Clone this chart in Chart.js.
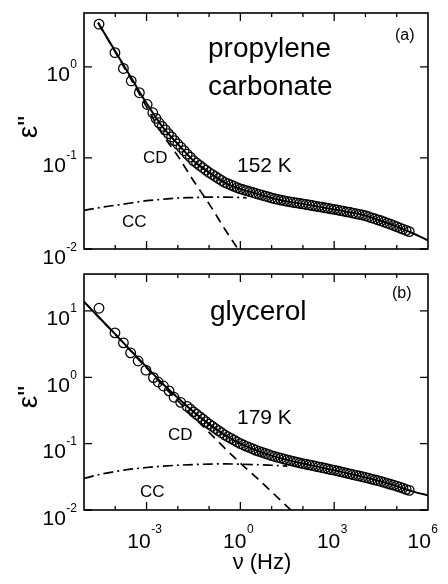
<!DOCTYPE html>
<html>
<head>
<meta charset="utf-8">
<script src="https://cdn.jsdelivr.net/npm/chart.js@4.4.0/dist/chart.umd.min.js"></script>
<style>
  html, body { margin: 0; padding: 0; background: #fff; }
  #wrap { position: relative; width: 448px; height: 584px; }
  canvas { position: absolute; left: 0; }
</style>
</head>
<body>
<div id="wrap">
  <canvas id="panelA" width="448" height="268" style="top:0"></canvas>
  <canvas id="panelB" width="448" height="316" style="top:268px"></canvas>
</div>
<script>
// frequencies are given as log10(nu / Hz), loss values as epsilon''

// (a) propylene carbonate, 152 K - measured points
const lgNuA = [-4.52, -4.01, -3.74, -3.49, -3.23, -2.98,
  -2.8, -2.7, -2.6, -2.5, -2.4, -2.3, -2.2, -2.1, -2.0, -1.9, -1.8, -1.7, -1.6, -1.5, -1.4, -1.3, -1.2, -1.1,
  -1.0, -0.9, -0.8, -0.7, -0.6, -0.5, -0.4, -0.3, -0.2, -0.1, 0.0, 0.1, 0.2, 0.3, 0.4, 0.5, 0.6, 0.7, 0.8, 0.9,
  1.0, 1.1, 1.2, 1.3, 1.4, 1.5, 1.6, 1.7, 1.8, 1.9, 2.0, 2.1, 2.2, 2.3, 2.4, 2.5, 2.6, 2.7, 2.8, 2.9,
  3.0, 3.1, 3.2, 3.3, 3.4, 3.5, 3.6, 3.7, 3.8, 3.9, 4.0, 4.1, 4.2, 4.3, 4.4, 4.5, 4.6, 4.7, 4.8, 4.9,
  5.0, 5.1, 5.2, 5.3, 5.4];
const epsA = [2.94, 1.43, 0.96, 0.70, 0.52, 0.386,
  0.313, 0.272, 0.243, 0.222, 0.203, 0.185, 0.170, 0.155, 0.142, 0.131, 0.120, 0.110, 0.102, 0.0933, 0.0879, 0.0828, 0.0780, 0.0735,
  0.0692, 0.0658, 0.0625, 0.0594, 0.0565, 0.0537, 0.0520, 0.0504, 0.0488, 0.0472, 0.0457, 0.0447, 0.0437, 0.0427, 0.0417, 0.0407, 0.0398, 0.0389, 0.0380, 0.0372,
  0.0363, 0.0356, 0.0351, 0.0344, 0.0339, 0.0333, 0.0329, 0.0324, 0.0321, 0.0316, 0.0313, 0.0308, 0.0304, 0.0300, 0.0296, 0.0292, 0.0288, 0.0284, 0.0280, 0.0276,
  0.0272, 0.0269, 0.0264, 0.0261, 0.0256, 0.0253, 0.0248, 0.0244, 0.0240, 0.0236, 0.0232, 0.0226, 0.0220, 0.0215, 0.0209, 0.0204, 0.0198, 0.0192, 0.0187, 0.0181,
  0.0176, 0.0170, 0.0165, 0.0160, 0.0155];
// (a) total fit, Cole-Davidson and Cole-Cole parts
const fitLgA = [-4.55, -4.0, -3.5, -3.0, -2.5, -2.0, -1.5, -1.0, -0.5, 0.0, 0.5, 1.0, 1.5, 2.0, 2.5, 3.0, 3.5, 4.0, 4.5, 5.0, 5.5, 6.0];
const fitA = [3.06, 1.48, 0.767, 0.398, 0.222, 0.142, 0.0933, 0.0692, 0.0537, 0.0457, 0.0407, 0.0363, 0.0333, 0.0313, 0.0292, 0.0272, 0.0253, 0.0232, 0.0204, 0.0176, 0.0150, 0.0124];
const cdLgA = [-4.55, -4.0, -3.5, -3.0, -2.5, -2.0, -1.5, -1.0, -0.5, 0.0, 0.5];
const cdA = [3.03, 1.45, 0.735, 0.364, 0.184, 0.105, 0.0562, 0.0313, 0.0166, 0.00912, 0.00501];
const ccLgA = [-5.0, -4.5, -4.0, -3.5, -3.0, -2.5, -2.0, -1.5, -1.0, -0.5, 0.0, 0.2];
const ccA = [0.0266, 0.0285, 0.0302, 0.0320, 0.0339, 0.0351, 0.0363, 0.0367, 0.0372, 0.0372, 0.0367, 0.0365];

// (b) glycerol, 179 K - measured points
const lgNuB = [-4.52, -4.01, -3.74, -3.51, -3.27, -3.02, -2.78, -2.63, -2.46, -2.28, -2.12, -1.91, -1.70,
  -1.6, -1.5, -1.4, -1.3, -1.2, -1.1, -1.0, -0.9, -0.8, -0.7, -0.6, -0.5, -0.4, -0.3, -0.2, -0.1,
  0.0, 0.1, 0.2, 0.3, 0.4, 0.5, 0.6, 0.7, 0.8, 0.9, 1.0, 1.1, 1.2, 1.3, 1.4, 1.5, 1.6, 1.7, 1.8, 1.9,
  2.0, 2.1, 2.2, 2.3, 2.4, 2.5, 2.6, 2.7, 2.8, 2.9, 3.0, 3.1, 3.2, 3.3, 3.4, 3.5, 3.6, 3.7, 3.8, 3.9,
  4.0, 4.1, 4.2, 4.3, 4.4, 4.5, 4.6, 4.7, 4.8, 4.9, 5.0, 5.1, 5.2, 5.3, 5.4];
const epsB = [11.0, 4.67, 3.31, 2.34, 1.76, 1.28, 0.99, 0.85, 0.74, 0.625, 0.50, 0.42, 0.363,
  0.333, 0.302, 0.277, 0.255, 0.234, 0.215, 0.197, 0.183, 0.169, 0.157, 0.146, 0.135, 0.127, 0.120, 0.113, 0.106,
  0.100, 0.0955, 0.0912, 0.0871, 0.0832, 0.0794, 0.0766, 0.0738, 0.0711, 0.0686, 0.0661, 0.0641, 0.0622, 0.0604, 0.0586, 0.0569, 0.0555, 0.0541, 0.0527, 0.0514,
  0.0501, 0.0490, 0.0479, 0.0468, 0.0457, 0.0447, 0.0437, 0.0427, 0.0417, 0.0407, 0.0398, 0.0388, 0.0378, 0.0369, 0.0360, 0.0351, 0.0342, 0.0333, 0.0325, 0.0317,
  0.0309, 0.0301, 0.0292, 0.0284, 0.0277, 0.0269, 0.0261, 0.0252, 0.0244, 0.0237, 0.0229, 0.0221, 0.0213, 0.0205, 0.0198];
// (b) total fit, Cole-Davidson and Cole-Cole parts
const fitLgB = [-5.0, -4.5, -4.0, -3.5, -3.0, -2.5, -2.0, -1.5, -1.0, -0.5, 0.0, 0.5, 1.0, 1.5, 2.0, 2.5, 3.0, 3.5, 4.0, 4.5, 5.0, 5.5, 6.0];
const fitB = [13.8, 7.85, 4.47, 2.51, 1.43, 0.813, 0.490, 0.302, 0.197, 0.135, 0.100, 0.0794, 0.0661, 0.0569, 0.0501, 0.0447, 0.0398, 0.0351, 0.0309, 0.0269, 0.0229, 0.0191, 0.0166];
const cdLgB = [-5.0, -4.5, -4.0, -3.5, -3.0, -2.5, -2.0, -1.5, -1.0, -0.5, 0.0, 0.5, 1.0, 1.5, 2.0];
const cdB = [13.77, 7.82, 4.43, 2.47, 1.38, 0.767, 0.443, 0.254, 0.148, 0.0855, 0.0510, 0.0312, 0.0188, 0.0112, 0.0068];
const ccLgB = [-5.0, -4.5, -4.0, -3.5, -3.0, -2.5, -2.0, -1.5, -1.0, -0.5, 0.0, 0.5, 1.0, 1.5];
const ccB = [0.0299, 0.0343, 0.0380, 0.0412, 0.0437, 0.0457, 0.0473, 0.0484, 0.0492, 0.0495, 0.0490, 0.0482, 0.0473, 0.0457];

// axes
const xTickExp = [-4, -3, -2, -1, 0, 1, 2, 3, 4, 5];
const xLabelExp = [-3, 0, 3, 6];
const yLabelExpA = [0, -1, -2];
const yLabelExpB = [1, 0, -1, -2];

const FONT = '"Liberation Sans", Arial, Helvetica, sans-serif';

function pts(lg, v) {
  return lg.map((e, i) => ({ x: Math.pow(10, e), y: v[i] }));
}

function power(ctx, exp, left, baseY, supY) {
  ctx.font = '21px ' + FONT;
  ctx.fillText('10', left, baseY);
  const wb = ctx.measureText('10').width;
  ctx.font = '12px ' + FONT;
  ctx.fillText(String(exp), left + wb + 0.5, supY);
}

function powerWidth(ctx, exp) {
  ctx.font = '21px ' + FONT;
  const wb = ctx.measureText('10').width;
  ctx.font = '12px ' + FONT;
  return wb + 0.5 + ctx.measureText(String(exp)).width;
}

// frame, inward ticks on all sides, tick labels and annotations
function framePlugin(p) {
  return {
    id: 'frame',
    afterDatasetsDraw(chart) {
      const { ctx, chartArea: a, scales: { x, y } } = chart;
      ctx.save();
      ctx.strokeStyle = '#000';
      ctx.fillStyle = '#000';
      ctx.lineWidth = 1.3;
      ctx.beginPath();
      xTickExp.forEach(e => {
        const px = x.getPixelForValue(Math.pow(10, e));
        const len = e % 3 === 0 ? 8 : 4;
        ctx.moveTo(px, a.bottom); ctx.lineTo(px, a.bottom - len);
        ctx.moveTo(px, a.top); ctx.lineTo(px, a.top + len);
      });
      p.yLabels.forEach(e => {
        const py = y.getPixelForValue(Math.pow(10, e));
        ctx.moveTo(a.left, py); ctx.lineTo(a.left + 8, py);
        ctx.moveTo(a.right, py); ctx.lineTo(a.right - 8, py);
      });
      ctx.stroke();
      ctx.lineWidth = 1.6;
      ctx.strokeRect(a.left, a.top, a.right - a.left, a.bottom - a.top);

      ctx.textBaseline = 'alphabetic';
      ctx.textAlign = 'left';
      p.yLabels.forEach(e => {
        const py = y.getPixelForValue(Math.pow(10, e));
        const w = powerWidth(ctx, e);
        power(ctx, e, 77 - w, py + 14.5, py + 1.5);
      });
      if (p.xLabels) {
        xLabelExp.forEach(e => {
          const px = x.getPixelForValue(Math.pow(10, e));
          const w = powerWidth(ctx, e);
          let left = px - 2 - w / 2;
          if (left + w > 438) left = 438 - w;
          power(ctx, e, left, a.bottom + 37.5, a.bottom + 23);
        });
      }

      p.texts.forEach(t => {
        ctx.font = t.size + 'px ' + FONT;
        ctx.textAlign = t.align || 'left';
        ctx.fillText(t.text, t.x, t.y);
      });

      // y axis title
      ctx.save();
      ctx.translate(37, p.yTitleY);
      ctx.rotate(-Math.PI / 2);
      ctx.font = '28px ' + FONT;
      ctx.textAlign = 'center';
      ctx.fillText('ε"', 0, 0);
      ctx.restore();
      ctx.restore();
    }
  };
}

function panel(id, d) {
  const line = { showLine: true, borderColor: '#000', pointRadius: 0, cubicInterpolationMode: 'monotone', order: 1 };
  return new Chart(document.getElementById(id), {
    type: 'scatter',
    data: {
      datasets: [
        Object.assign({ data: pts(d.fitLg, d.fit), borderWidth: 2 }, line),
        Object.assign({ data: pts(d.cdLg, d.cd), borderWidth: 1.7, borderDash: [9, 6] }, line),
        Object.assign({ data: pts(d.ccLg, d.cc), borderWidth: 1.7, borderDash: [10, 4, 2, 4] }, line),
        {
          data: pts(d.lg, d.eps),
          showLine: false,
          pointRadius: 4.8,
          pointBorderWidth: 1.25,
          pointBorderColor: '#000',
          pointBackgroundColor: 'rgba(0,0,0,0)',
          order: 2
        }
      ]
    },
    options: {
      responsive: false,
      animation: false,
      devicePixelRatio: 1,
      events: [],
      layout: { padding: d.pad },
      scales: {
        x: { type: 'logarithmic', display: false, min: 1e-5, max: 1e6 },
        y: { type: 'logarithmic', display: false, min: 0.01, max: d.yMax }
      },
      plugins: { legend: { display: false }, tooltip: { enabled: false } }
    },
    plugins: [framePlugin(d)]
  });
}

panel('panelA', {
  lg: lgNuA, eps: epsA, fitLg: fitLgA, fit: fitA, cdLg: cdLgA, cd: cdA, ccLg: ccLgA, cc: ccA,
  yMax: 3.9,
  pad: { left: 84, right: 20, top: 13, bottom: 19 },
  yLabels: yLabelExpA,
  xLabels: false,
  yTitleY: 127,
  texts: [
    { text: 'propylene', x: 208, y: 57, size: 28 },
    { text: 'carbonate', x: 208, y: 95, size: 28 },
    { text: '(a)', x: 395, y: 40, size: 16 },
    { text: '152 K', x: 237, y: 171.5, size: 21 },
    { text: 'CD', x: 143, y: 163, size: 17 },
    { text: 'CC', x: 122, y: 226.5, size: 17 }
  ]
});

panel('panelB', {
  lg: lgNuB, eps: epsB, fitLg: fitLgB, fit: fitB, cdLg: cdLgB, cd: cdB, ccLg: ccLgB, cc: ccB,
  yMax: 36,
  pad: { left: 84, right: 20, top: 5, bottom: 74 },
  yLabels: yLabelExpB,
  xLabels: true,
  yTitleY: 129,
  texts: [
    { text: 'glycerol', x: 210, y: 52, size: 28 },
    { text: '(b)', x: 392, y: 30, size: 16 },
    { text: '179 K', x: 237, y: 156, size: 21 },
    { text: 'CD', x: 168, y: 172, size: 17 },
    { text: 'CC', x: 140, y: 228.5, size: 17 },
    { text: 'ν (Hz)', x: 262, y: 301, size: 22, align: 'center' }
  ]
});
</script>
</body>
</html>
